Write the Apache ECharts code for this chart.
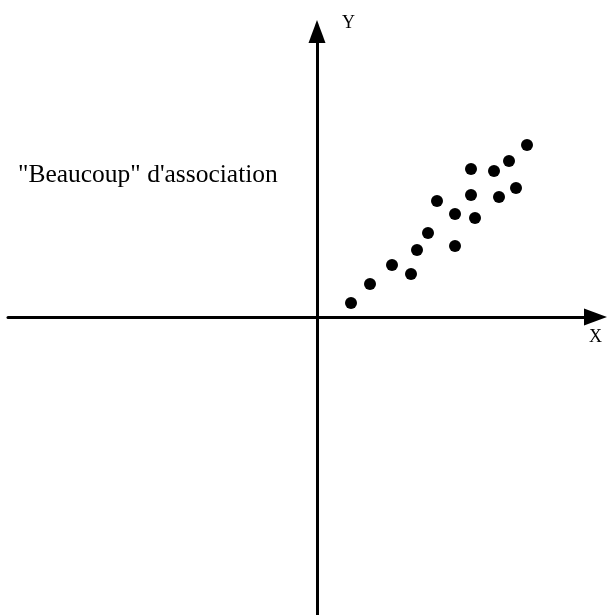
<!DOCTYPE html>
<html>
<head>
<meta charset="utf-8">
<script src="https://cdn.jsdelivr.net/npm/echarts@6/dist/echarts.min.js"></script>
<style>
  html, body { margin: 0; padding: 0; background: #fff; }
  #chart { width: 608px; height: 615px; }
</style>
</head>
<body>
<div id="chart"></div>
<script>
// points (x, y relative to the origin)
const xValues = [3.4, 5.3, 7.5, 9.4, 10.0, 11.1, 12.0, 13.8, 13.8, 15.4, 15.4, 15.8, 17.7, 18.2, 19.2, 19.9, 21.0]
const yValues = [1.4, 3.3, 5.2, 4.3, 6.7, 8.4, 11.6, 10.3, 7.1, 14.8, 12.2, 9.9, 14.6, 12.0, 15.6, 12.9, 17.2]
const title = '"Beaucoup" d\'association'
const xName = 'X'
const yName = 'Y'

const points = xValues.map((x, i) => [x, yValues[i]])

const chart = echarts.init(document.getElementById('chart'))

function makeAxis(min, max, arrowShift) {
  return {
    type: 'value',
    min: min,
    max: max,
    axisLine: {
      onZero: true,
      symbol: ['none', 'triangle'],
      symbolSize: [17, 23],
      symbolOffset: [0, arrowShift],
      lineStyle: { color: '#000', width: 3 }
    },
    axisTick: { show: false },
    axisLabel: { show: false },
    splitLine: { show: false }
  }
}

chart.setOption({
  animation: false,
  backgroundColor: '#fff',
  grid: { left: 8, right: 10, top: 30, bottom: 0 },
  xAxis: makeAxis(-30.9, 28.1, -2.5),
  yAxis: makeAxis(-29.8, 28.7, -1.5),
  graphic: [
    {
      type: 'text',
      left: 18,
      top: 162,
      style: { text: title, font: '25.5px "Liberation Serif"', fill: '#000' }
    },
    {
      type: 'text',
      left: 342,
      top: 14,
      style: { text: yName, font: '18px "Liberation Serif"', fill: '#000' }
    },
    {
      type: 'text',
      left: 589,
      top: 328,
      style: { text: xName, font: '18px "Liberation Serif"', fill: '#000' }
    }
  ],
  series: [
    {
      type: 'scatter',
      data: points,
      symbol: 'circle',
      symbolSize: 12,
      itemStyle: { color: '#000', opacity: 1 }
    }
  ]
})
</script>
</body>
</html>
